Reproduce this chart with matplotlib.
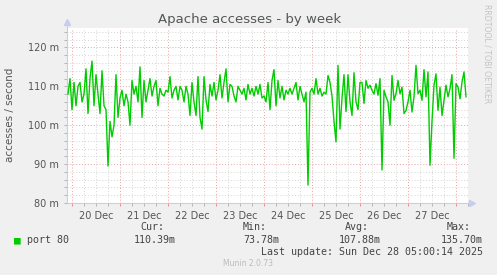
import pandas as pd
import matplotlib
matplotlib.use("Agg")
import matplotlib.pyplot as plt
import matplotlib.dates as mdates
from matplotlib.ticker import MultipleLocator, FuncFormatter

# accesses per second (milli), hourly, starting Dec 19 22:00
dec19 = [108, 112]
dec20 = [104, 111, 105, 110, 111, 106, 108, 114.5, 103, 112, 116.5, 105,
         113, 108, 103, 114, 105, 104, 89.5, 101, 97, 100, 113, 102]
dec21 = [107, 109, 105, 108, 106, 100, 111.5, 108, 110, 106, 115, 102,
         111.5, 106, 109, 112, 107.5, 110, 111.5, 105, 109.5, 108, 107.5, 109]
dec22 = [108.5, 112.5, 107, 109, 110, 106.5, 110, 109, 106, 110, 108, 102.5,
         111, 106, 102.5, 112.5, 102, 99, 112.5, 106.5, 103.5, 110.5, 107.5, 111]
dec23 = [106.5, 109, 113, 107, 111, 114.5, 106, 110.5, 110, 107.5, 106, 110,
         109, 108, 109.5, 106.5, 110.5, 108, 109.5, 107.5, 110, 108, 110.5, 107]
dec24 = [107.5, 106, 111, 104, 111.5, 114.3, 105, 111.5, 107, 110, 106.5, 109,
         108, 109.5, 108, 109.5, 111, 106.5, 110, 108, 106, 108.5, 84.6, 108.5]
dec25 = [109.5, 108, 112, 108, 109.5, 107.5, 108.5, 108, 112.8, 111, 107.5, 101,
         95.7, 115.4, 99, 107, 113, 103.5, 113, 106, 102.5, 113.5, 106, 104]
dec26 = [111, 111, 105.6, 111.5, 109.5, 110.3, 109, 108, 110.7, 107.7, 112, 88.5,
         109, 107.3, 106, 100, 112.8, 106.4, 108.1, 111.5, 108.1, 109.8, 103, 103.8]
dec27 = [106, 109, 103.4, 107.3, 115.4, 108.1, 109, 106.4, 114.3, 107.3, 113.7, 89.7,
         101, 110.3, 113.2, 103.8, 109.8, 102.5, 106.4, 110.3, 107.3, 109.4, 113, 91.5]
dec28 = [110.7, 109.8, 106.8, 111.1, 113.7, 107.3]

values = dec19 + dec20 + dec21 + dec22 + dec23 + dec24 + dec25 + dec26 + dec27 + dec28
times = pd.date_range("2025-12-19 22:00", periods=len(values), freq="h")

stat_names = ["Cur:", "Min:", "Avg:", "Max:"]
stat_values = ["110.39m", "73.78m", "107.88m", "135.70m"]

W, H = 497, 275
fig = plt.figure(figsize=(W / 100, H / 100), dpi=100, facecolor="#F0F0F0")
ax = fig.add_axes([67 / W, 72 / H, 401 / W, 175 / H])
ax.set_facecolor("white")

ax.plot(times, values, color="#00CC00", lw=1, zorder=3)
ax.set_xlim(pd.Timestamp("2025-12-19 21:30"), pd.Timestamp("2025-12-28 06:00"))
ax.set_ylim(80, 125)

ax.yaxis.set_major_locator(MultipleLocator(10))
ax.yaxis.set_minor_locator(MultipleLocator(2))
ax.yaxis.set_major_formatter(FuncFormatter(lambda v, p: "%d m" % v))

ax.xaxis.set_major_locator(mdates.DayLocator())
ax.xaxis.set_minor_locator(mdates.HourLocator(byhour=[6, 12, 18]))
ax.xaxis.set_major_formatter(FuncFormatter(lambda v, p: ""))


def day_label(v, p):
    d = mdates.num2date(v)
    return d.strftime("%d %b") if d.hour == 12 else ""


ax.xaxis.set_minor_formatter(FuncFormatter(day_label))

ax.set_axisbelow(True)
ax.grid(which="minor", color="#D4D4D4", ls=(0, (1, 2)), lw=0.7)
ax.grid(which="major", color="#E8A4A4", ls=(0, (1, 2)), lw=0.7)

for s in ["top", "right", "left", "bottom"]:
    ax.spines[s].set_visible(False)
axis_col = "#C8CCF0"
ax.plot([0, 0], [0, 1.035], color=axis_col, lw=0.8, transform=ax.transAxes, clip_on=False)
ax.plot([0, 1.01], [0, 0], color=axis_col, lw=0.8, transform=ax.transAxes, clip_on=False)
ax.plot([0], [1.035], marker="^", ms=4, color=axis_col, transform=ax.transAxes, clip_on=False)
ax.plot([1.01], [0], marker=">", ms=4, color=axis_col, transform=ax.transAxes, clip_on=False)

ax.tick_params(which="both", colors="#AAAAAA", labelcolor="#555555", labelsize=7,
               length=2.5, width=0.6, direction="out")
ax.tick_params(axis="x", which="both", pad=3)
ax.tick_params(axis="x", which="major", colors="#E08080", labelcolor="#555555")

fig.text(250 / W, 1 - 19 / H, "Apache accesses - by week", ha="center", va="center",
         fontsize=9.5, color="#555555")
fig.text(10 / W, 1 - 115 / H, "accesses / second", rotation=90, ha="center", va="center",
         fontsize=7.5, color="#555555")
fig.text(487.5 / W, 1 - 53.5 / H, "RRDTOOL / TOBI OETIKER", rotation=270, ha="center", va="center",
         fontsize=5.6, color="#C4C4C4")

mono = "DejaVu Sans Mono"
fig.text(17 / W, 1 - 240 / H, "\u25a0", family=mono, ha="center", va="center", fontsize=8, color="#00CC00")
fig.text(27 / W, 1 - 240 / H, "port 80", family=mono, ha="left", va="center", fontsize=7.2, color="#444444")
name_x = [152, 255, 357, 459]
val_right = [176, 279, 381, 483]
for nm, val, nx, vr in zip(stat_names, stat_values, name_x, val_right):
    fig.text(nx / W, 1 - 227 / H, nm, family=mono, ha="center", va="center", fontsize=7.2, color="#444444")
    fig.text(vr / W, 1 - 240 / H, val, family=mono, ha="right", va="center", fontsize=7.2, color="#444444")
fig.text(483 / W, 1 - 252 / H, "Last update: Sun Dec 28 05:00:14 2025", family=mono,
         ha="right", va="center", fontsize=7.2, color="#444444")
fig.text(248 / W, 1 - 264 / H, "Munin 2.0.73", ha="center", va="center", fontsize=5.5, color="#BBBBBB")

fig.savefig("out.png", dpi=100, facecolor=fig.get_facecolor())
